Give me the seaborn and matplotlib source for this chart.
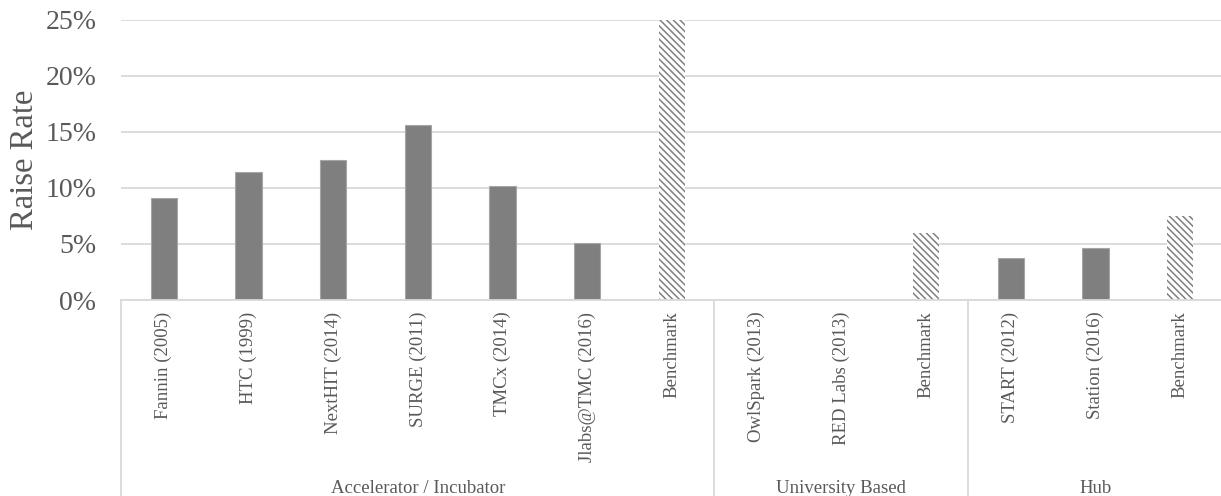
import matplotlib
matplotlib.use("Agg")
import matplotlib.pyplot as plt
import matplotlib.transforms as mtransforms
from matplotlib.ticker import PercentFormatter
import seaborn as sns
import pandas as pd

# ---- data ----
groups = ["Accelerator / Incubator", "University Based", "Hub"]
accel_names = ["Fannin (2005)", "HTC (1999)", "NextHIT (2014)", "SURGE (2011)",
               "TMCx (2014)", "Jlabs@TMC (2016)", "Benchmark"]
accel_vals = [9.1, 11.4, 12.45, 15.6, 10.15, 5.05, 25.0]
univ_names = ["OwlSpark (2013)", "RED Labs (2013)", "Benchmark"]
univ_vals = [0.0, 0.0, 6.0]
hub_names = ["START (2012)", "Station (2016)", "Benchmark"]
hub_vals = [3.7, 4.6, 7.45]
y_ticks = [0, 5, 10, 15, 20, 25]

sns.set_theme(style="white")
plt.rcParams["font.family"] = ["Liberation Serif", "DejaVu Serif"]
plt.rcParams["hatch.linewidth"] = 1.1

rows = []
for g, names, vals in [(groups[0], accel_names, accel_vals),
                       (groups[1], univ_names, univ_vals),
                       (groups[2], hub_names, hub_vals)]:
    for n, v in zip(names, vals):
        rows.append({"group": g, "name": n, "key": f"{g}|{n}", "value": v,
                     "bench": n == "Benchmark"})
df = pd.DataFrame(rows)

fig = plt.figure(figsize=(12.21, 4.96), dpi=100)
ax = fig.add_axes([121.4 / 1221, 196 / 496, 1101.1 / 1221, 280.5 / 496])

sns.barplot(data=df, x="key", y="value", order=list(df["key"]), color="#7f7f7f",
            width=0.31, edgecolor="#a6a6a6", linewidth=0.8, saturation=1,
            ax=ax, errorbar=None)

for patch, is_b in zip(ax.patches, df["bench"]):
    if is_b:
        patch.set_facecolor("white")
        patch.set_edgecolor("#808080")
        patch.set_hatch("\\\\\\\\\\")
        patch.set_linewidth(0)

ax.set_ylim(0, 25)
ax.set_xlim(-0.5, len(df) - 0.5)
ax.set_yticks(y_ticks)
ax.yaxis.set_major_formatter(PercentFormatter(decimals=0))
ax.grid(axis="y", color="#d9d9d9", linewidth=1.3)
ax.set_axisbelow(True)
for s in ["top", "right", "left"]:
    ax.spines[s].set_visible(False)
ax.spines["bottom"].set_color("#d9d9d9")
ax.spines["bottom"].set_linewidth(1.3)

ax.set_xticks(range(len(df)))
ax.set_xticklabels(df["name"], rotation=90, fontsize=13.5, color="#595959")
ax.tick_params(axis="x", length=0, pad=8.4)
ax.tick_params(axis="y", length=0, pad=18, labelsize=20, labelcolor="#595959")
ax.set_xlabel("")
ax.set_ylabel("Raise Rate", fontsize=23.5, color="#595959")
ax.yaxis.set_label_coords(-0.074, 0.5)

trans = mtransforms.blended_transform_factory(ax.transData, ax.transAxes)
start = 0
bounds = [-0.5]
for g in groups:
    n = int((df["group"] == g).sum())
    center = start + (n - 1) / 2
    ax.text(center, -0.672, g, transform=trans, ha="center", va="center",
            fontsize=13.5, color="#595959")
    start += n
    bounds.append(start - 0.5)
for b in bounds:
    ax.plot([b, b], [0, -0.72], transform=trans, color="#d9d9d9",
            linewidth=1.3, clip_on=False)

fig.savefig("out.png", dpi=100)
